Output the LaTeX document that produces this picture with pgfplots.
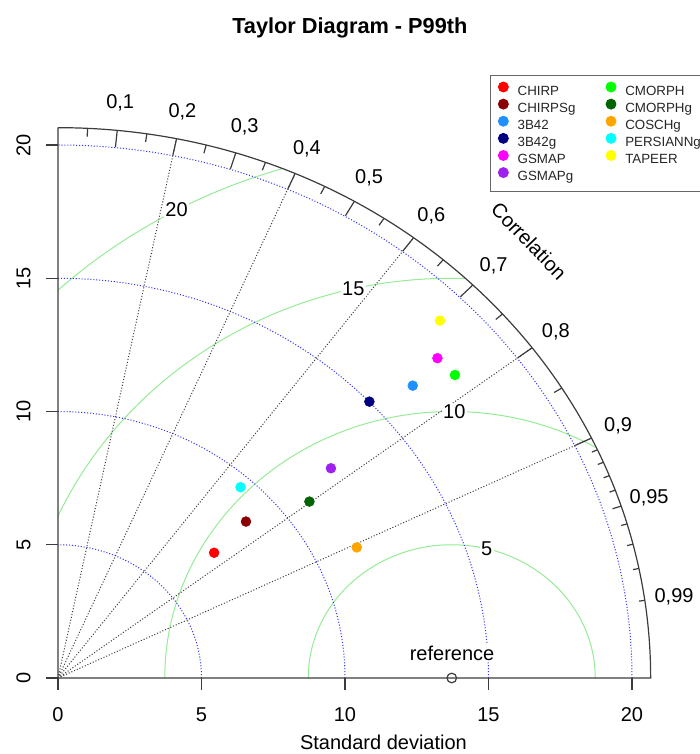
\documentclass[border=0pt]{standalone}
\usepackage{pgfplots}
\pgfplotsset{compat=1.18}
\usepackage{fontspec}
\setmainfont{Liberation Sans}

\definecolor{gammagreen}{RGB}{150,235,150}
\definecolor{chirp}{RGB}{255,0,0}
\definecolor{chirpsg}{RGB}{139,0,0}
\definecolor{tb42}{RGB}{30,144,255}
\definecolor{tb42g}{RGB}{0,0,128}
\definecolor{gsmap}{RGB}{255,0,255}
\definecolor{gsmapg}{RGB}{160,32,240}
\definecolor{cmorph}{RGB}{0,255,0}
\definecolor{cmorphg}{RGB}{0,100,0}
\definecolor{coschg}{RGB}{255,165,0}
\definecolor{persiann}{RGB}{0,255,255}
\definecolor{tapeer}{RGB}{255,255,0}
\definecolor{axgray}{RGB}{60,60,60}

% max radius of the diagram and sd of the reference
\newcommand{\R}{20.65}
\newcommand{\sdref}{13.72}

\begin{document}
\begin{tikzpicture}
\begin{scope}[x=21.525pt, y=19.9875pt, font=\fontsize{15}{15}\selectfont]
  % centred RMS circles around the reference
  \begin{scope}
    \clip (0,0) -- (\R,0) arc[start angle=0, end angle=90, radius=\R] -- cycle;
    \foreach \g in {5,10,15,20}
      \draw[gammagreen, line width=0.75pt] (\sdref,0) circle[radius=\g];
  \end{scope}
  % standard deviation arcs
  \foreach \s in {5,10,15,20}
    \draw[blue!80, dash pattern=on 0.8pt off 1.4pt, line width=0.75pt]
      (\s,0) arc[start angle=0, end angle=90, radius=\s];
  % correlation rays
  \foreach \c in {0.2,0.4,0.6,0.8,0.9}
    \draw[black!75, dash pattern=on 0.8pt off 1.4pt, line width=0.75pt]
      (0,0) -- ({acos(\c)}:\R);
  % frame
  \draw[axgray, line width=0.9pt] (0,\R) -- (0,0) -- (\R,0)
    arc[start angle=0, end angle=90, radius=\R];
  % correlation ticks
  \foreach \c in {0.1,0.2,0.3,0.4,0.5,0.6,0.7,0.8,0.9}
    \draw[axgray, line width=0.9pt] ({acos(\c)}:\R) -- ({acos(\c)}:{0.97*\R});
  \foreach \c in {0.05,0.15,0.25,0.35,0.45,0.55,0.65,0.75,0.85,0.95}
    \draw[axgray, line width=0.9pt] ({acos(\c)}:\R) -- ({acos(\c)}:{0.985*\R});
  \foreach \c in {0.91,0.92,0.93,0.94,0.96,0.97,0.98,0.99}
    \draw[axgray, line width=0.9pt] ({acos(\c)}:\R) -- ({acos(\c)}:{0.99*\R});
  \foreach \c/\l in {0.1/{0,1},0.2/{0,2},0.3/{0,3},0.4/{0,4},0.5/{0,5},0.6/{0,6},
                     0.7/{0,7},0.8/{0,8},0.9/{0,9},0.95/{0,95},0.99/{0,99}}
    \node at ({acos(\c)}:{1.05*\R}) {\l};
  \node[rotate=-46] at (16.41,16.40) {Correlation};
  % RMS labels
  \node[fill=white, inner sep=1pt] at (14.94,4.84) {5};
  \node[fill=white, inner sep=1pt] at (13.81,10.0) {10};
  \node[fill=white, inner sep=1pt] at (10.29,14.61) {15};
  \node[fill=white, inner sep=1pt] at (4.13,17.56) {20};
  \node[fill=white, inner sep=1pt] at (13.73,0.94) {reference};
  % titles
  \node[font=\fontsize{16.3}{16.3}\selectfont\bfseries] at (10.17,24.39) {Taylor Diagram - P99th};
  \node at (11.34,-2.42) {Standard deviation};
\end{scope}

\begin{axis}[
    x=21.525pt, y=19.9875pt,
    xmin=0, xmax=\R, ymin=0, ymax=\R,
    clip=false,
    axis line style={draw=none},
    xtick={0,5,10,15,20}, ytick={0,5,10,15,20},
    xtick pos=left, ytick pos=left,
    tick align=outside, major tick length=9pt,
    tick style={axgray, line width=0.9pt},
    /pgf/number format/assume math mode=true,
    ticklabel style={font=\fontsize{15}{15}\selectfont},
    yticklabel style={rotate=90, anchor=south},
    xticklabel shift=9.5pt,
    yticklabel shift=8pt,
    legend columns=2,
    legend image code/.code={\draw[#1] plot coordinates {(0pt,3.3pt)};},
    legend style={
        at={(0.7288,1.0959)}, anchor=north west,
        draw=black!60, line width=0.75pt,
        font=\fontsize{10}{11}\selectfont, text=black!85,
        inner xsep=6pt, inner ysep=5pt,
        row sep=-0.4pt,
        /tikz/every odd column/.style={column sep=5pt},
        /tikz/every even column/.style={column sep=21pt},
    },
    legend cell align=left,
    every axis plot/.append style={only marks, mark=*, mark size=3.7pt, mark options={draw=none}},
]
  % reference point
  \addplot[forget plot, mark=o, mark size=3.6pt, mark options={draw=axgray, line width=0.9pt}]
    coordinates {(13.72,0)};
  % rows ordered so that the two legend columns read downwards
  \addplot[color=chirp]     coordinates {(5.44,4.70)};
  \addlegendentry{CHIRP}
  \addplot[color=cmorph]    coordinates {(13.83,11.37)};
  \addlegendentry{CMORPH}
  \addplot[color=chirpsg]   coordinates {(6.55,5.87)};
  \addlegendentry{CHIRPSg}
  \addplot[color=cmorphg]   coordinates {(8.76,6.62)};
  \addlegendentry{CMORPHg}
  \addplot[color=tb42]      coordinates {(12.36,10.97)};
  \addlegendentry{3B42}
  \addplot[color=coschg]    coordinates {(10.41,4.90)};
  \addlegendentry{COSCHg}
  \addplot[color=tb42g]     coordinates {(10.85,10.37)};
  \addlegendentry{3B42g}
  \addplot[color=persiann]  coordinates {(6.36,7.16)};
  \addlegendentry{PERSIANNg}
  \addplot[color=gsmap]     coordinates {(13.22,12.00)};
  \addlegendentry{GSMAP}
  \addplot[color=tapeer]    coordinates {(13.31,13.41)};
  \addlegendentry{TAPEER}
  \addplot[color=gsmapg]    coordinates {(9.51,7.87)};
  \addlegendentry{GSMAPg}
\end{axis}

\pgfresetboundingbox
\path[use as bounding box] (-43.5pt,-57.0pt) rectangle (481.5pt,508.5pt);
\end{tikzpicture}
\end{document}
